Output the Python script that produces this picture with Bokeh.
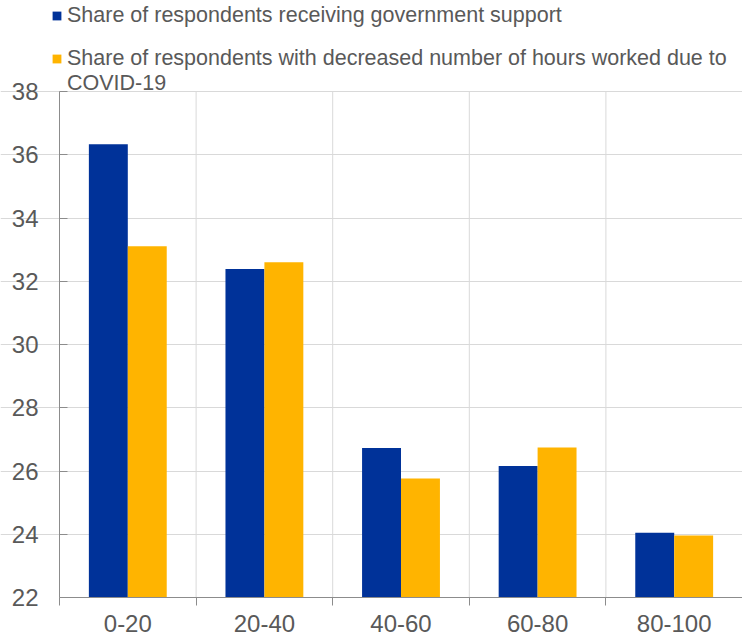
import numpy as np
from bokeh.plotting import figure
from bokeh.models import (ColumnDataSource, FixedTicker, Legend, LegendItem,
                          Range1d)
from bokeh.embed import file_html
from bokeh.resources import INLINE

categories = ["0-20", "20-40", "40-60", "60-80", "80-100"]
gov_support = [36.33, 32.39, 26.73, 26.16, 24.05]
hours_decreased = [33.11, 32.60, 25.76, 26.74, 23.96]
series_names = [
    "Share of respondents receiving government support",
    "Share of respondents with decreased number of hours worked due to",
    "COVID-19",
]
y_ticks = [22, 24, 26, 28, 30, 32, 34, 36, 38]

BLUE = "#003299"
YELLOW = "#FFB400"
TEXT = "#595959"
GRID = "#d9d9d9"
AXIS = "#8c8c8c"
FONT = "Liberation Sans"

# layout constants (pixels)
W, H = 742, 635
AXIS_X = 59              # where the y axis sits
PLOT_TOP = 91            # where the top of the value axis sits
PLOT_BOTTOM = 597        # where the category axis sits

n = len(categories)
cat_px = (W - AXIS_X) / n
val_px = (PLOT_BOTTOM - PLOT_TOP) / (y_ticks[-1] - y_ticks[0])

centers = np.arange(n) + 0.5
bar_w = 0.285

src = ColumnDataSource(dict(
    cat=categories,
    xb=centers - bar_w / 2,
    xy=centers + bar_w / 2,
    gov=gov_support,
    hrs=hours_decreased,
))

p = figure(width=W, height=H, output_backend="svg", toolbar_location=None,
           x_range=Range1d(-AXIS_X / cat_px, n),
           y_range=Range1d(y_ticks[0] - (H - PLOT_BOTTOM) / val_px,
                           y_ticks[-1] + PLOT_TOP / val_px),
           min_border_left=0, min_border_top=0,
           min_border_bottom=0, min_border_right=0)
p.outline_line_color = None
p.background_fill_color = "white"
p.border_fill_color = "white"

# vertical separators between categories
bounds = list(range(1, n + 1))
p.segment(x0=bounds, x1=bounds, y0=y_ticks[0], y1=y_ticks[-1],
          line_color=GRID, line_width=1, level="underlay")

r1 = p.vbar(x="xb", top="gov", bottom=y_ticks[0], width=bar_w, source=src,
            fill_color=BLUE, line_color=None)
r2 = p.vbar(x="xy", top="hrs", bottom=y_ticks[0], width=bar_w, source=src,
            fill_color=YELLOW, line_color=None)
r_blank = p.vbar(x=[], top=[], width=bar_w, fill_alpha=0, line_alpha=0)

# x axis: labels at centres, tick marks at boundaries
p.xaxis.ticker = FixedTicker(ticks=list(centers), minor_ticks=list(range(n + 1)))
p.xaxis.major_label_overrides = {float(c): lab for c, lab in zip(centers, categories)}
p.xaxis.fixed_location = y_ticks[0]
p.xaxis.bounds = (0, n)
p.xaxis.major_tick_line_color = None
p.xaxis.major_tick_out = 0
p.xaxis.minor_tick_out = 8
p.xaxis.minor_tick_in = 0
p.xaxis.minor_tick_line_color = AXIS
p.xaxis.axis_line_color = AXIS
p.xaxis.major_label_standoff = 9
p.xaxis.major_label_text_font = FONT
p.xaxis.major_label_text_font_size = "24px"
p.xaxis.major_label_text_color = TEXT

p.yaxis.ticker = FixedTicker(ticks=y_ticks)
p.yaxis.fixed_location = 0
p.yaxis.bounds = (y_ticks[0], y_ticks[-1])
p.yaxis.major_tick_in = 8
p.yaxis.major_tick_out = 0
p.yaxis.minor_tick_line_color = None
p.yaxis.major_tick_line_color = AXIS
p.yaxis.axis_line_color = AXIS
p.yaxis.major_label_standoff = 21
p.yaxis.major_label_text_font = FONT
p.yaxis.major_label_text_font_size = "24px"
p.yaxis.major_label_text_color = TEXT

p.xgrid.visible = False
p.ygrid.ticker = FixedTicker(ticks=y_ticks[1:])
p.ygrid.grid_line_color = GRID

common = dict(glyph_width=11, glyph_height=11, label_standoff=5,
              padding=0, margin=0, border_line_color=None,
              background_fill_alpha=0, label_text_font=FONT,
              label_text_font_size="21.5px", label_text_color=TEXT,
              label_height=24, spacing=0)

legend_a = Legend(items=[LegendItem(label=series_names[0], renderers=[r1])],
                  location=(51, H - 28), **common)
legend_b = Legend(items=[LegendItem(label=series_names[1], renderers=[r2]),
                         LegendItem(label=series_names[2], renderers=[r_blank])],
                  location=(51, H - 96), **common)
p.add_layout(legend_a, "center")
p.add_layout(legend_b, "center")

open("out.html", "w").write(file_html(p, INLINE))
